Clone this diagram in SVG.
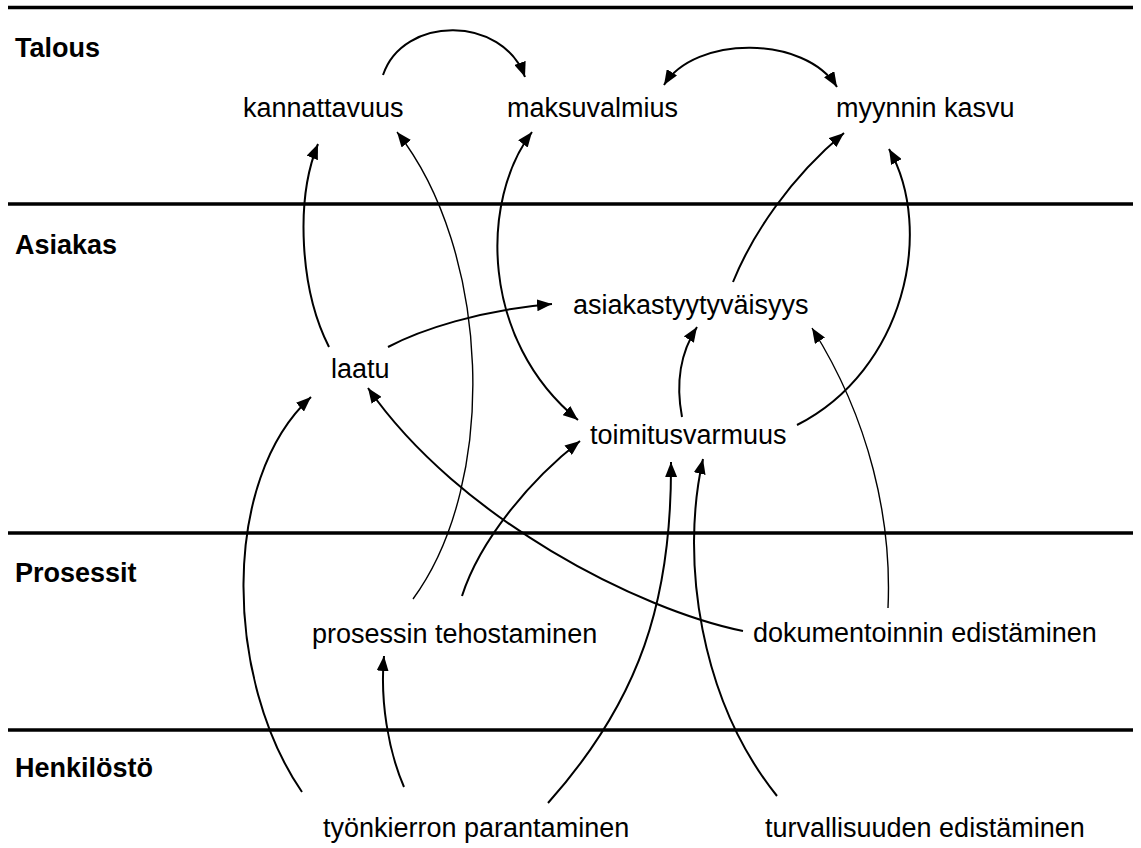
<svg xmlns="http://www.w3.org/2000/svg" width="1141" height="848" viewBox="0 0 1141 848">
  <style>
    .lane { stroke: #000; stroke-width: 3.5; }
    .lane-label { font-family: "Liberation Sans", Arial, sans-serif; font-size: 27px; font-weight: bold; fill: #000; }
    .node text { font-family: "Liberation Sans", Arial, sans-serif; font-size: 27px; fill: #000; }
    .edge { fill: none; stroke: #000; stroke-width: 2; marker-end: url(#arrow); }
    .thin { stroke-width: 1.4; }
    .both { marker-start: url(#arrow-start); }
  </style>
  <defs>
    <marker id="arrow" viewBox="0 0 15 12" refX="15" refY="6" markerWidth="15" markerHeight="12" markerUnits="userSpaceOnUse" orient="auto">
      <path d="M0,0 L15,6 L0,12 z" fill="#000"/>
    </marker>
    <marker id="arrow-start" viewBox="0 0 15 12" refX="15" refY="6" markerWidth="15" markerHeight="12" markerUnits="userSpaceOnUse" orient="auto-start-reverse">
      <path d="M0,0 L15,6 L0,12 z" fill="#000"/>
    </marker>
  </defs>
  <rect width="1141" height="848" fill="#fff"/>

  <!-- swimlane separators and titles -->
  <g id="lanes">
    <line class="lane" x1="8" y1="7.5" x2="1133" y2="7.5"/>
    <line class="lane" x1="8" y1="204" x2="1133" y2="204"/>
    <line class="lane" x1="8" y1="533" x2="1133" y2="533"/>
    <line class="lane" x1="8" y1="730" x2="1133" y2="730"/>
    <text class="lane-label" x="15" y="57">Talous</text>
    <text class="lane-label" x="15" y="254">Asiakas</text>
    <text class="lane-label" x="15" y="582">Prosessit</text>
    <text class="lane-label" x="15" y="777">Henkilöstö</text>
  </g>

  <!-- connectors -->
  <g id="connectors">
    <path class="edge" d="M383,75 C403,15 503,15 525,77"/>
    <path class="edge both" d="M664,85 C695,35 805,35 837,87"/>
    <path class="edge" d="M329,347 C300,290 295,200 318,144"/>
    <path class="edge thin" d="M413,599 C500,480 490,250 397,132"/>
    <path class="edge both" d="M532,132 C480,200 480,340 578,420"/>
    <path class="edge" d="M388,347 C420,330 480,310 552,304"/>
    <path class="edge" d="M682,417 C675,380 682,350 697,327"/>
    <path class="edge" d="M733,282 C752,235 790,178 844,133"/>
    <path class="edge" d="M797,425 C905,370 935,230 889,149"/>
    <path class="edge thin" d="M888,608 C892,520 870,420 812,328"/>
    <path class="edge" d="M743,631 C640,610 460,520 368,388"/>
    <path class="edge" d="M462,596 C480,540 530,480 580,441"/>
    <path class="edge" d="M302,792 C225,680 220,480 311,397"/>
    <path class="edge" d="M404,787 C388,750 380,700 384,656"/>
    <path class="edge" d="M548,803 C640,700 672,600 671,462"/>
    <path class="edge" d="M777,796 C700,700 680,560 703,459"/>
  </g>

  <!-- nodes -->
  <g id="kannattavuus" class="node"><text x="243" y="117">kannattavuus</text></g>
  <g id="maksuvalmius" class="node"><text x="507" y="117">maksuvalmius</text></g>
  <g id="myynnin-kasvu" class="node"><text x="836" y="117">myynnin kasvu</text></g>
  <g id="asiakastyytyvaisyys" class="node"><text x="573" y="314">asiakastyytyväisyys</text></g>
  <g id="laatu" class="node"><text x="331" y="378">laatu</text></g>
  <g id="toimitusvarmuus" class="node"><text x="590" y="444">toimitusvarmuus</text></g>
  <g id="prosessin-tehostaminen" class="node"><text x="312" y="643">prosessin tehostaminen</text></g>
  <g id="dokumentoinnin-edistaminen" class="node"><text x="753" y="642">dokumentoinnin edistäminen</text></g>
  <g id="tyonkierron-parantaminen" class="node"><text x="323" y="837">työnkierron parantaminen</text></g>
  <g id="turvallisuuden-edistaminen" class="node"><text x="765" y="837">turvallisuuden edistäminen</text></g>
</svg>
